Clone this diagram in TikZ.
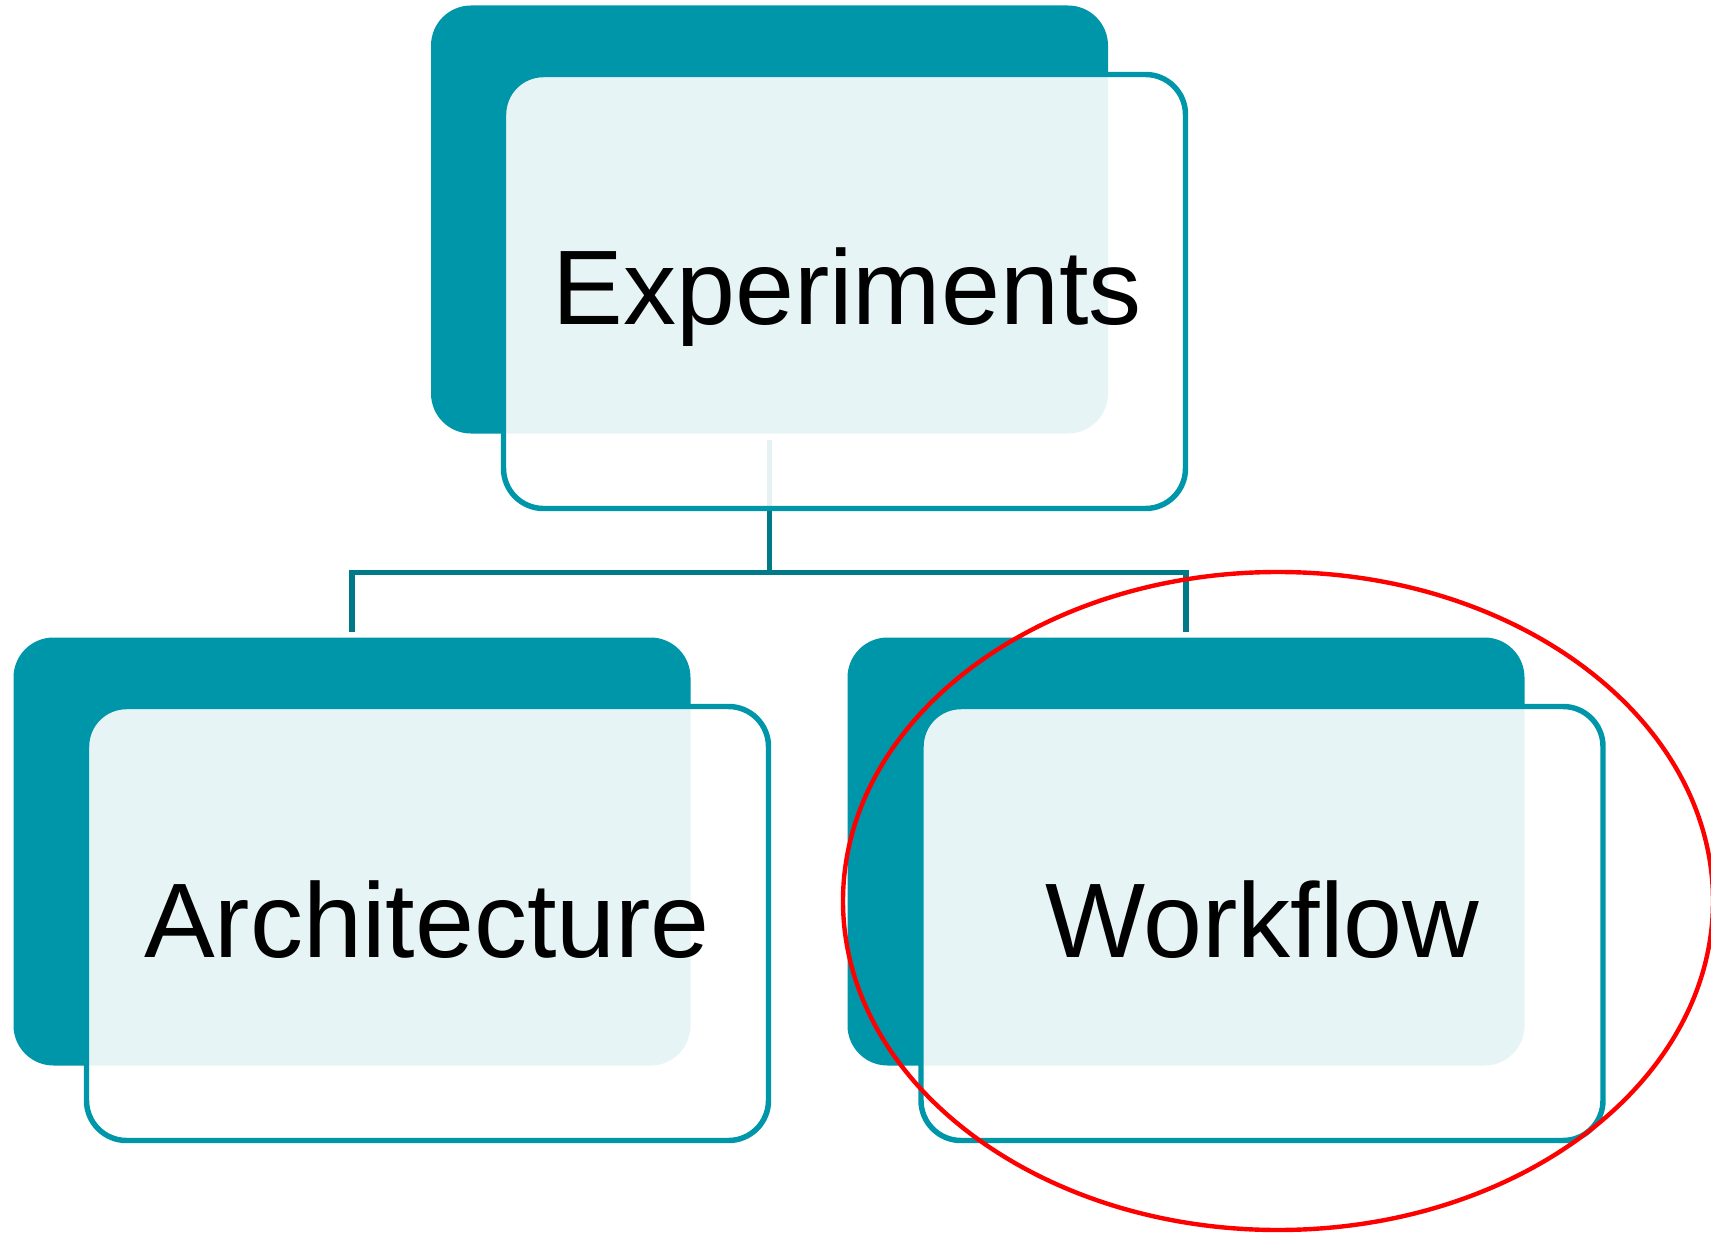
\documentclass[tikz,border=0pt]{standalone}
\usepackage{fontspec}
\setmainfont{Liberation Sans}
\usepackage{xcolor}
\usetikzlibrary{positioning}
\definecolor{boxteal}{HTML}{0096A9}
\definecolor{linkteal}{HTML}{007A87}
\definecolor{ringred}{HTML}{FF0000}

\tikzset{
  backbox/.style={fill=boxteal, rounded corners=30pt, minimum width=507.75pt, minimum height=321pt, inner sep=0pt},
  frontbox/.style={draw=boxteal, line width=4.1pt, fill=white, fill opacity=0.9, rounded corners=30pt, minimum width=511.5pt, minimum height=325.5pt, inner sep=0pt},
  boxtext/.style={font=\fontsize{79.5}{95}\selectfont, inner sep=0pt, anchor=base},
  linkline/.style={draw=linkteal, line width=3.8pt},
}

\begin{document}
\begin{tikzpicture}[x=0.75pt,y=0.75pt,yscale=-1,xscale=1]
\useasboundingbox (0,0) rectangle (1711,1234);

%Rounded Rect (back)
\node [backbox] (expback) at (769.5,219.5) {};
\node [backbox] (archback) at (352,851.5) {};
\node [backbox] (flowback) at (1186,851.5) {};

%Straight Lines
\draw [linkline] ([yshift=4.5pt]expback.south) -- ++(0,133) coordinate (fork);
\draw [linkline] (fork) -| ([yshift=-4pt]archback.north);
\draw [linkline] (fork) -| ([yshift=-4pt]flowback.north);

%Rounded Rect (front)
\node [frontbox] (expfront) at (844.5,291.5) {};
\node [frontbox] (archfront) at (427.5,923.5) {};
\node [frontbox] (flowfront) at (1262,923.5) {};

% Text Node
\node [boxtext] (exptext) at (847,324) {Experiments};
% Text Node
\node [boxtext] (archtext) at (427,957) {Architecture};
% Text Node
\node [boxtext] (flowtext) at (1262.5,957) {Workflow};

%Shape: Ellipse
\draw [ringred, line width=3.3pt] (1278,901) ellipse [x radius=326.25pt, y radius=246.75pt];

\end{tikzpicture}
\end{document}
